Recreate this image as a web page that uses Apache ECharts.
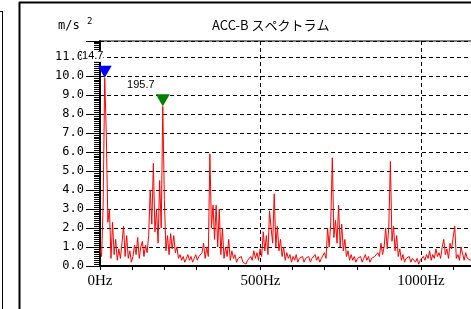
<!DOCTYPE html>
<html>
<head>
<meta charset="utf-8">
<script src="https://cdn.jsdelivr.net/npm/echarts@6/dist/echarts.min.js"></script>
<style>
  html, body { margin: 0; padding: 0; background: #fff; }
  #chart { width: 471px; height: 309px; }
</style>
</head>
<body>
<div id="chart"></div>
<script>
// spectrum bins, spacing df (Hz)
const df = 4.89;
const spectrum = [
  0.9, 0.5, 3.2, 9.9, 7.0, 2.3, 3.0, 0.4, 2.3, 0.6,
  1.4, 0.3, 0.9, 0.4, 1.2, 2.1, 0.5, 1.6, 0.4, 0.8,
  0.2, 0.5, 1.1, 0.6, 1.5, 0.4, 1.0, 1.3, 0.5, 1.1,
  0.7, 1.6, 4.0, 2.2, 5.4, 1.8, 3.0, 1.2, 4.5, 2.0,
  8.4, 3.5, 0.8, 1.6, 0.6, 1.7, 0.9, 1.6, 0.7, 1.0,
  0.4, 0.6, 0.3, 0.5, 0.2, 0.4, 0.6, 0.3, 0.5, 0.2,
  0.4, 0.6, 0.3, 0.5, 0.4, 0.7, 1.2, 0.4, 1.0, 0.5,
  5.9, 2.0, 3.2, 1.4, 3.2, 1.0, 3.0, 0.6, 2.0, 0.4,
  1.0, 0.5, 1.4, 0.3, 0.8, 0.4, 0.6, 0.2, 0.4, 0.3,
  0.5, 0.2, 0.3, 0.1, 0.3, 0.2, 0.5, 0.3, 0.8, 0.4,
  0.7, 0.3, 0.9, 0.5, 1.8, 0.8, 1.6, 0.6, 2.9, 2.0,
  1.2, 3.8, 1.0, 2.1, 0.8, 1.4, 0.5, 1.0, 0.3, 0.7,
  0.4, 0.6, 0.2, 0.5, 0.3, 0.6, 0.2, 0.4, 0.3, 0.5,
  0.2, 0.4, 0.3, 0.5, 0.2, 0.4, 0.3, 0.6, 0.3, 0.5,
  0.2, 0.4, 0.3, 0.7, 0.4, 2.0, 1.0, 2.3, 5.7, 1.5,
  2.4, 1.2, 3.2, 1.0, 2.2, 0.8, 1.4, 0.5, 0.8, 0.3,
  0.6, 0.3, 0.5, 0.2, 0.4, 0.3, 0.5, 0.2, 0.4, 0.6,
  0.3, 0.5, 0.2, 0.4, 0.3, 0.5, 0.4, 0.7, 0.5, 1.2,
  0.6, 1.0, 2.0, 0.9, 2.1, 5.5, 1.3, 2.1, 0.8, 1.6,
  0.5, 0.9, 0.3, 0.6, 0.2, 0.4, 0.3, 0.5, 0.2, 0.4,
  0.3, 0.2, 0.4, 0.1, 0.3, 0.2, 0.5, 0.3, 0.6, 0.4,
  0.8, 0.3, 0.6, 0.4, 0.9, 0.5, 0.7, 0.4, 1.0, 1.4,
  0.6, 0.9, 0.4, 1.2, 0.9, 0.9, 2.1, 0.4, 0.6, 0.3,
  1.0, 0.9, 0.3, 0.7, 0.4, 0.5, 0.3, 0.4
];
const peakFreqs = [14.7, 195.7];
const peakVals = [9.9, 8.4];
const peakColors = ['#0000ff', '#008000'];
const peakLabelShift = [-12, -22];

const points = spectrum.map((v, i) => [i * df, v]);

const chart = echarts.init(document.getElementById('chart'), null, { renderer: 'canvas' });

chart.setOption({
  animation: false,
  backgroundColor: '#fff',
  title: {
    text: 'ACC-B スペクトラム',
    left: 212,
    top: 19,
    padding: 0,
    textStyle: { fontFamily: 'Noto Sans CJK JP', fontSize: 13, fontWeight: 'normal', color: '#000' }
  },
  grid: {
    left: 100, top: 41, width: 481.5, height: 225,
    containLabel: false, outerBoundsMode: 'none',
    show: true, borderColor: '#000', borderWidth: 1, backgroundColor: 'transparent'
  },
  xAxis: {
    type: 'value',
    min: 0, max: 1500, interval: 500,
    axisLine: { lineStyle: { color: '#000', width: 2 } },
    axisTick: { length: 4, lineStyle: { color: '#000' } },
    minorTick: { show: true, splitNumber: 5, length: 4, lineStyle: { color: '#000' } },
    splitLine: { show: true, lineStyle: { color: '#000', type: [4, 3], width: 1 } },
    axisLabel: {
      color: '#000', fontFamily: 'Liberation Serif', fontSize: 15, margin: 8,
      formatter: v => v + 'Hz'
    }
  },
  yAxis: {
    type: 'value',
    min: 0, max: 11.84, interval: 1,
    axisLine: { show: true, lineStyle: { color: '#000', width: 2 } },
    axisTick: { show: true, length: 14, lineStyle: { color: '#000' } },
    minorTick: { show: true, splitNumber: 10, length: 6, lineStyle: { color: '#000' } },
    splitLine: { show: true, lineStyle: { color: '#000', type: [4, 3], width: 1 } },
    axisLabel: {
      color: '#000', fontFamily: 'DejaVu Sans Mono', fontSize: 12, margin: 16,
      formatter: v => Number.isInteger(v) ? v.toFixed(1) : ''
    }
  },
  graphic: [
    { type: 'line', shape: { x1: 19, y1: 2.5, x2: 471, y2: 2.5 }, style: { stroke: '#000', lineWidth: 2 } },
    { type: 'line', shape: { x1: 19.5, y1: 2, x2: 19.5, y2: 309 }, style: { stroke: '#000', lineWidth: 2 } },
    { type: 'line', shape: { x1: 2.5, y1: 11, x2: 2.5, y2: 309 }, style: { stroke: '#000', lineWidth: 1 } },
    { type: 'line', shape: { x1: 0, y1: 11.5, x2: 3, y2: 11.5 }, style: { stroke: '#000', lineWidth: 1 } },
    { type: 'text', left: 58, top: 20, style: { text: 'm/s', font: '12px "DejaVu Sans Mono"', fill: '#000' } },
    { type: 'text', left: 87, top: 17, style: { text: '2', font: '9px "DejaVu Sans Mono"', fill: '#000' } }
  ],
  series: [{
    type: 'line',
    data: points,
    showSymbol: false,
    lineStyle: { color: '#ff0000', width: 1 },
    markPoint: {
      symbol: 'path://M0,0L10,0L5,10Z',
      symbolSize: [14, 12],
      symbolOffset: [0, -6],
      label: {
        show: true, position: 'top', distance: 4,
        color: '#000', fontFamily: 'Liberation Sans', fontSize: 11,
        backgroundColor: '#fff',
        formatter: '{b}'
      },
      data: peakFreqs.map((f, k) => ({
        name: String(f),
        coord: [f, peakVals[k]],
        itemStyle: { color: peakColors[k] },
        label: { offset: [peakLabelShift[k], 0] }
      }))
    }
  }]
});
</script>
</body>
</html>
